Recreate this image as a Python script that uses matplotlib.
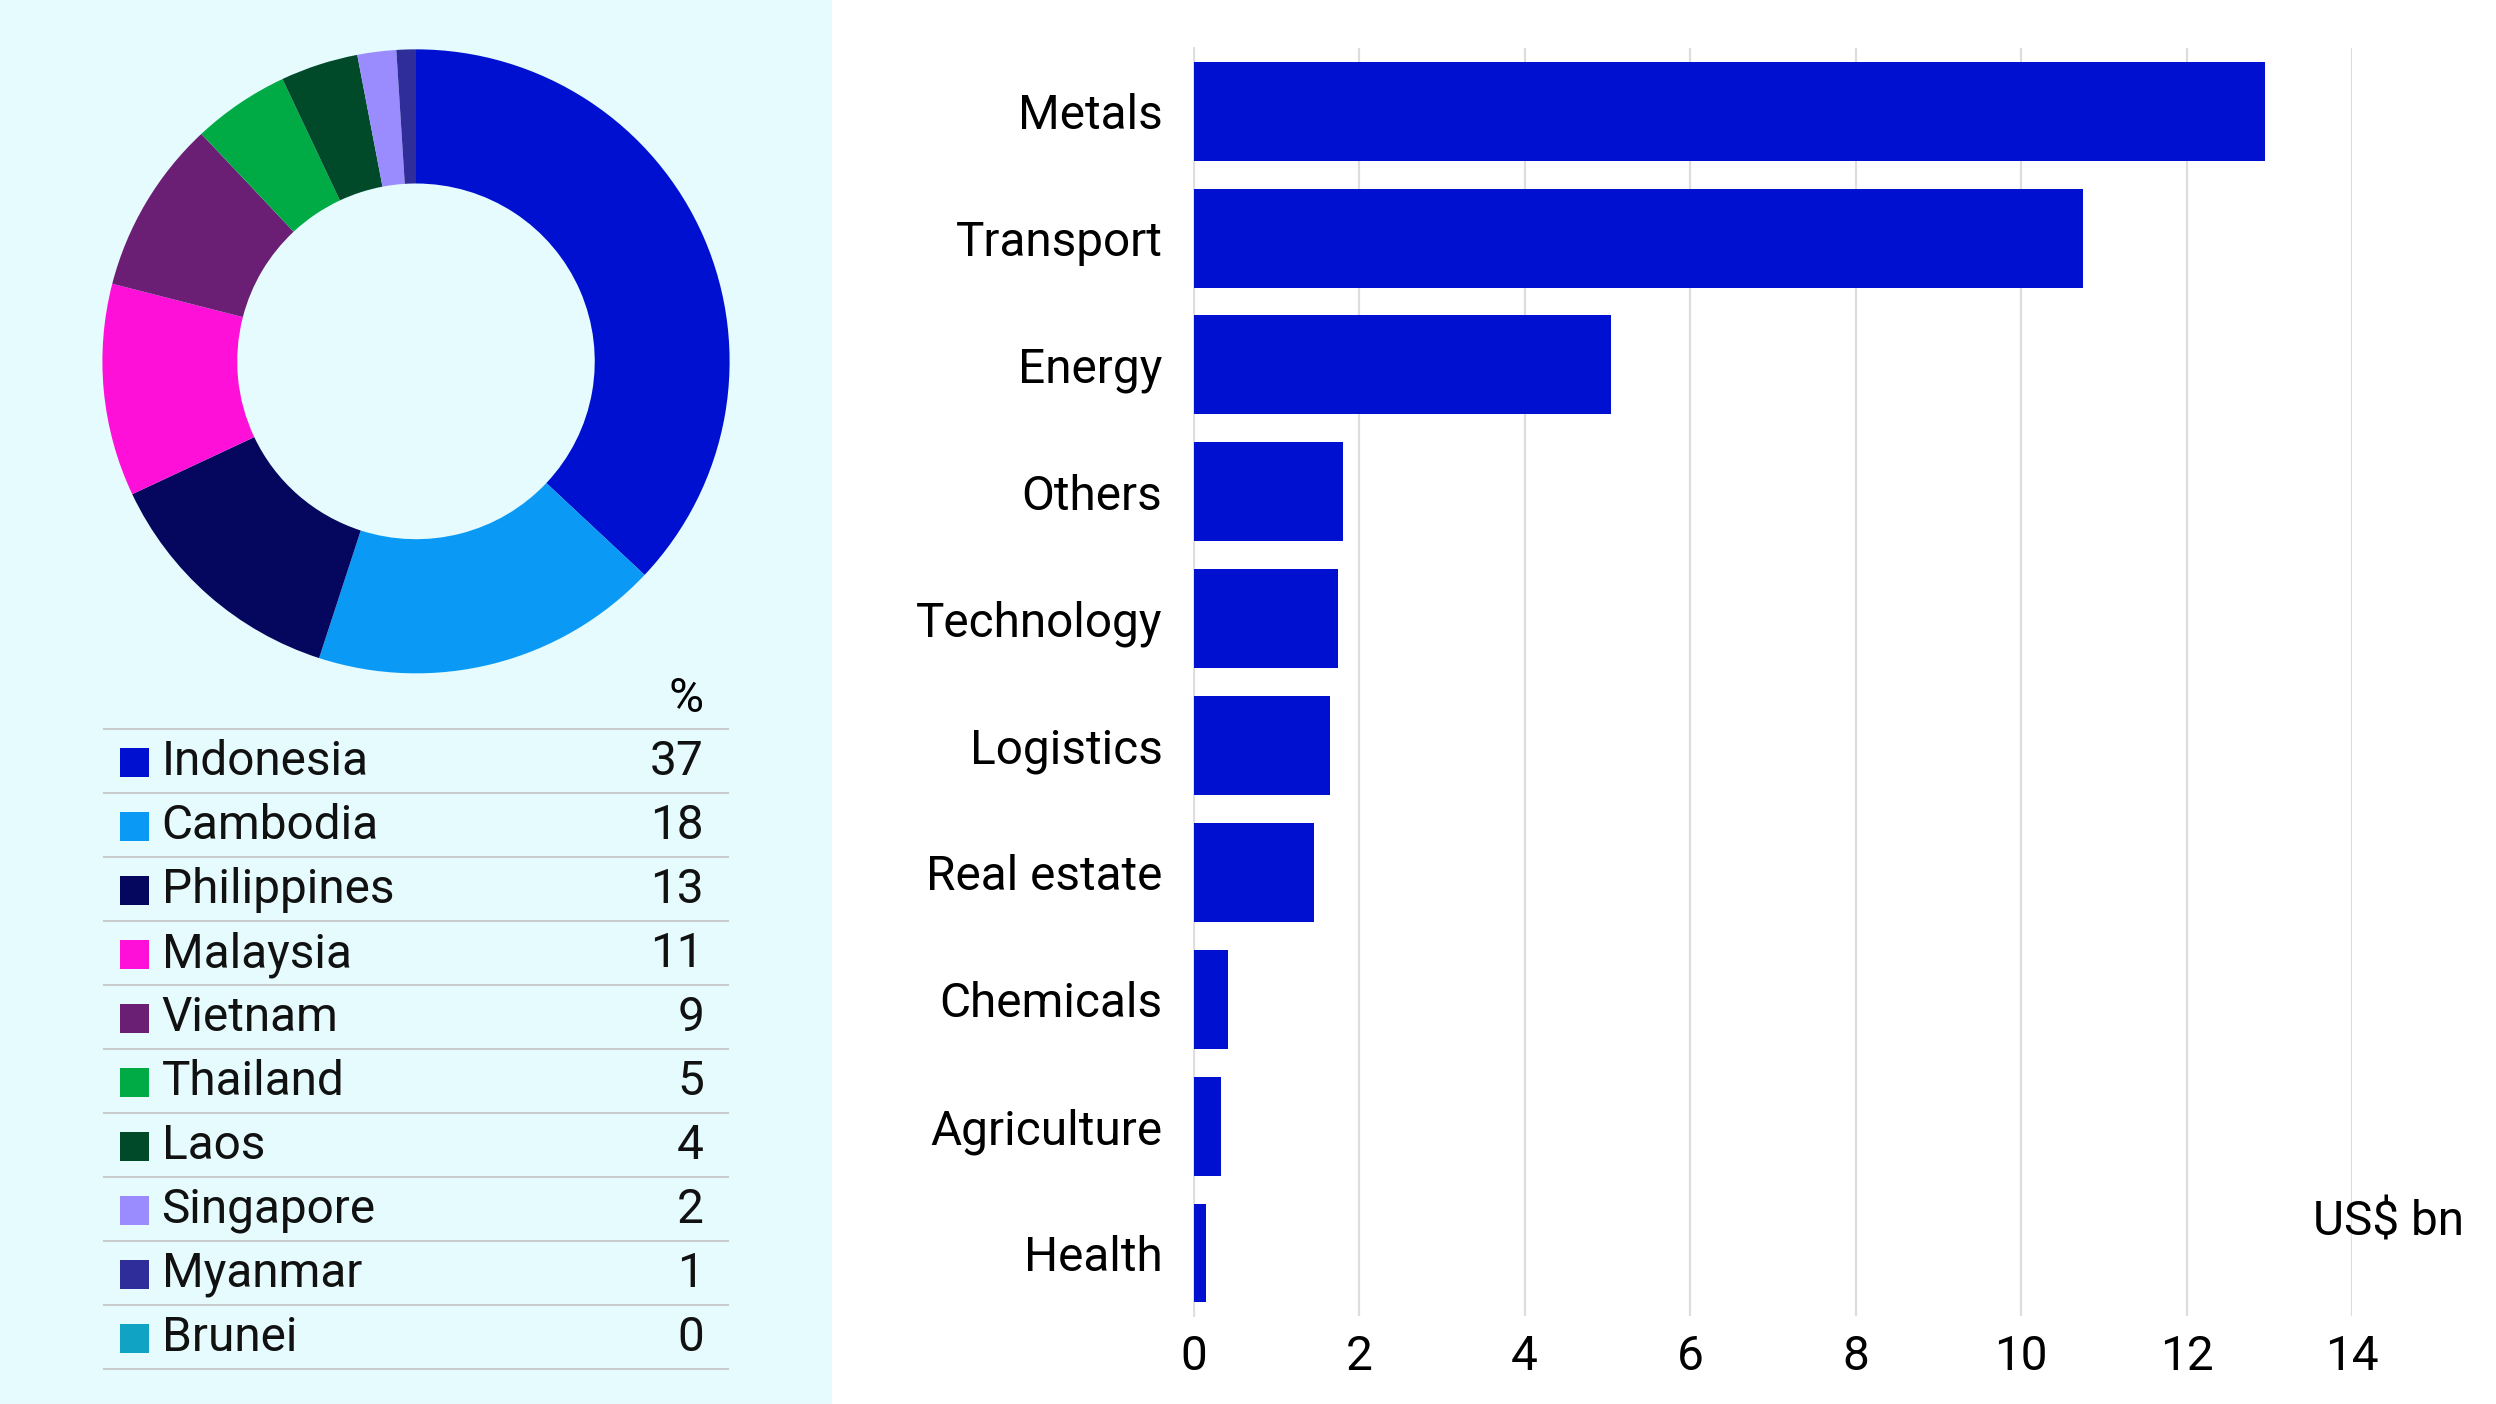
import matplotlib.pyplot as plt
from matplotlib.patches import Rectangle
from matplotlib.lines import Line2D

plt.rcParams['font.family'] = 'Roboto'

# Data ########################################################################
countries = ['Indonesia', 'Cambodia', 'Philippines', 'Malaysia', 'Vietnam',
             'Thailand', 'Laos', 'Singapore', 'Myanmar', 'Brunei']
shares = [37, 18, 13, 11, 9, 5, 4, 2, 1, 0]
country_colors = ['#0010d0', '#0a9af5', '#05065e', '#ff10d8', '#6a1e74',
                  '#00aa44', '#004a2a', '#9a8cff', '#2e2d9a', '#11a3c4']

sectors = ['Metals', 'Transport', 'Energy', 'Others', 'Technology',
           'Logistics', 'Real estate', 'Chemicals', 'Agriculture', 'Health']
values = [12.95, 10.75, 5.05, 1.8, 1.75, 1.65, 1.45, 0.42, 0.33, 0.15]
xticks = [0, 2, 4, 6, 8, 10, 12, 14]

# Figure ######################################################################
W, H = 1560, 882
fig = plt.figure(figsize=(15.6, 8.775), dpi=160)
fig.patch.set_facecolor('white')
fig.patches.append(Rectangle((0, 0), 520 / W, 1, transform=fig.transFigure,
                             facecolor='#e5fbfd', edgecolor='none', zorder=-5))

# Donut
ax_p = fig.add_axes([64 / W, 1 - 423 / H, 392 / W, 392 / H])
ax_p.set_zorder(2)
ax_p.patch.set_visible(False)
ax_p.pie(shares, colors=country_colors, startangle=90, counterclock=False,
         radius=1, wedgeprops=dict(width=0.43, edgecolor='none'))
ax_p.set_xlim(-1, 1)
ax_p.set_ylim(-1, 1)
ax_p.set_aspect('auto')
ax_p.axis('off')

# Legend table
fs = 21.5
fig.text(440 / W, 1 - 439 / H, '%', fontsize=fs, ha='right', va='center')
for i, (c, s, col) in enumerate(zip(countries, shares, country_colors)):
    y = 1 - (479 + 40.2 * i) / H
    fig.patches.append(Rectangle((75 / W, y - 9 / H), 18 / W, 18 / H,
                                 transform=fig.transFigure, facecolor=col,
                                 edgecolor='none'))
    fig.text(101 / W, y, c, fontsize=fs, va='center', color='#111')
    fig.text(440 / W, y, str(s), fontsize=fs, ha='right', va='center', color='#111')
for i in range(11):
    y = 1 - (458 + 40.2 * i) / H
    fig.add_artist(Line2D([65 / W, 455 / W], [y, y], color='#c8cccc', lw=0.9,
                          transform=fig.transFigure))

# Bars
ax = fig.add_axes([746 / W, 1 - 827 / H, (1470 - 746) / W, (827 - 30) / H])
ax.patch.set_visible(False)
ax.barh(range(len(sectors)), values, height=0.78, color='#0010d0', zorder=3)
ax.set_ylim(len(sectors) - 0.5, -0.5)
ax.set_xlim(0, 14)
ax.set_yticks(range(len(sectors)))
ax.set_yticklabels(sectors, fontsize=fs)
ax.set_xticks(xticks)
ax.set_xticklabels([str(t) for t in xticks], fontsize=fs)
ax.tick_params(length=0, pad=14)
ax.tick_params(axis='x', pad=8)
ax.grid(axis='x', color='#dddddd', lw=1, zorder=0)
for s in ['top', 'right', 'bottom']:
    ax.spines[s].set_visible(False)
ax.spines['left'].set_color('#dddddd')
ax.text(1540 / W, 1 - 768 / H, 'US$ bn', transform=fig.transFigure,
        fontsize=fs, ha='right', va='center')

fig.savefig('out.png', dpi=160)
